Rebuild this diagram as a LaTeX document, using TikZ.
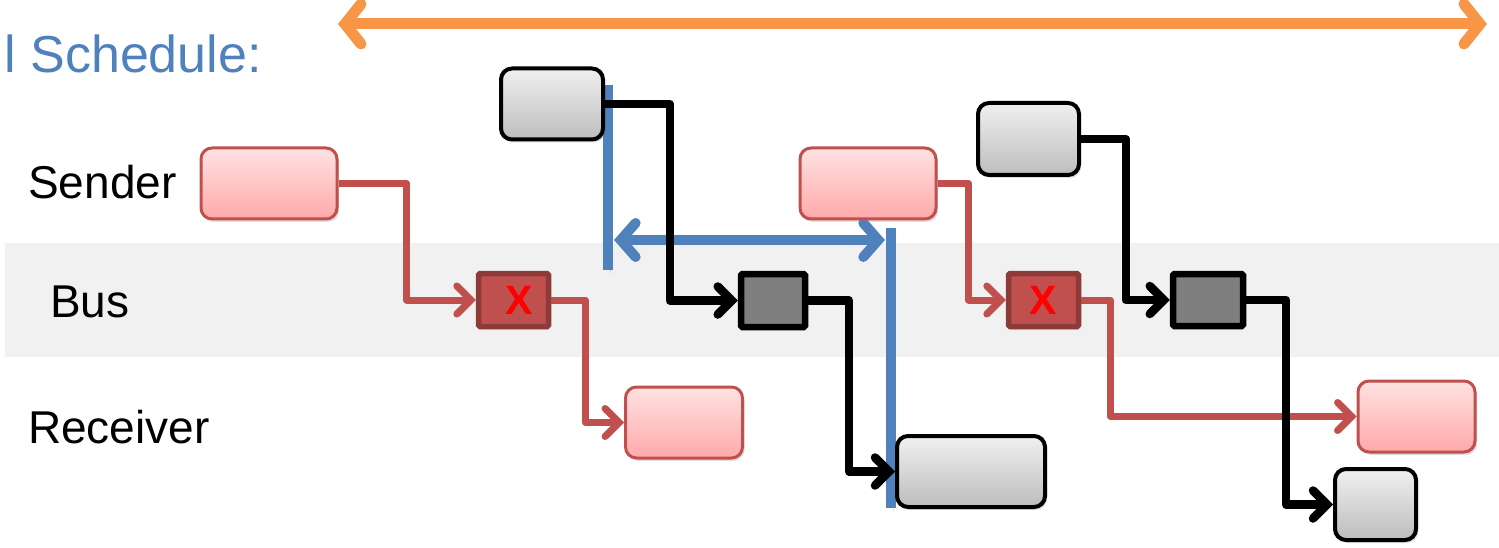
\documentclass[tikz,border=0pt]{standalone}
\usepackage{fontspec}
\setmainfont{Liberation Sans}
\usetikzlibrary{arrows.meta,shadows}
\definecolor{schedblue}{HTML}{4F81BD}
\definecolor{spanorange}{HTML}{F79646}
\definecolor{msgred}{HTML}{C0504D}
\definecolor{msgreddark}{HTML}{8C3B39}
\definecolor{bandgray}{HTML}{F1F1F1}
\definecolor{pinktop}{HTML}{FFE2E2}
\definecolor{pinkbottom}{HTML}{FFA9A9}
\definecolor{graytop}{HTML}{F0F0F0}
\definecolor{graybottom}{HTML}{BDBDBD}
\definecolor{busgray}{HTML}{7F7F7F}
\tikzset{
  lbl/.style={font=\fontsize{46}{52}\selectfont, anchor=base west, inner sep=0},
  boxshadow/.style={drop shadow={opacity=0.25, shadow xshift=2pt, shadow yshift=-3pt}},
  lineshadow/.style={preaction={draw=black!60, draw opacity=0.2,
    transform canvas={shift={(2pt,-3pt)}}}},
  pinkbox/.style={draw=msgred, line width=3pt, rounded corners=11pt,
    top color=pinktop, bottom color=pinkbottom, inner sep=0, boxshadow},
  graybox/.style={draw=black, line width=4pt, rounded corners=11pt,
    top color=graytop, bottom color=graybottom, inner sep=0, boxshadow},
  failbox/.style={draw=msgreddark, line width=5.5pt, rounded corners=1.5pt, fill=msgred,
    inner sep=0, boxshadow},
  xmark/.style={text=red, font=\fontsize{41}{43}\selectfont\bfseries, inner sep=0},
  busbox/.style={draw=black, line width=6.5pt, rounded corners=1.5pt, fill=busgray,
    inner sep=0, boxshadow},
  redline/.style={draw=msgred, line width=7pt, line join=round, lineshadow,
    -{Straight Barb[length=14pt,width=28pt,line cap=round]}},
  blackline/.style={draw=black, line width=8.5pt, line join=round, lineshadow,
    -{Straight Barb[length=14pt,width=28pt,line cap=round]}},
  blueline/.style={draw=schedblue, line width=10pt, lineshadow},
}
\begin{document}
\begin{tikzpicture}[x=1pt,y=-1pt]
\useasboundingbox (0,0) rectangle (1499,548);
% bus band
\fill[bandgray] (5,243) rectangle (1499,357);

% title and span
\node[font=\fontsize{52}{58}\selectfont, text=schedblue, anchor=base east, inner sep=0] (title) at (262,73) {l Schedule:};
\coordinate (spanL) at (338,24);
\coordinate (spanR) at (1487,24);
\draw[spanorange, line width=11pt, lineshadow, {Straight Barb[length=16pt,width=40pt,line cap=round]}-{Straight Barb[length=16pt,width=40pt,line cap=round]}] (spanL) -- (spanR);

% row labels
\node[lbl] (lsender) at (28,199) {Sender};
\node[lbl] (lbus) at (50,317) {Bus};
\node[lbl] (lrecv) at (28,443) {Receiver};

% blue markers
\coordinate (m1top) at (608,85);
\coordinate (m1bot) at (608,270);
\coordinate (m2top) at (891,228);
\coordinate (m2bot) at (891,508);
\draw[blueline] (m1top) -- (m1bot);
\draw[blueline] (m2top) -- (m2bot);
\coordinate (gapL) at (614,240);
\coordinate (gapR) at (885,240);
\draw[blueline, {Straight Barb[length=15pt,width=34pt,line cap=round]}-{Straight Barb[length=15pt,width=34pt,line cap=round]}] (gapL) -- (gapR);

% sender row
\node[pinkbox, minimum width=136pt, minimum height=71pt] (s1) at (269,183.5) {};
\node[graybox, minimum width=102pt, minimum height=71pt] (g1) at (552,104) {};
\node[pinkbox, minimum width=136pt, minimum height=71pt] (s2) at (868,183.5) {};
\node[graybox, minimum width=101pt, minimum height=72pt] (g2) at (1028.5,139) {};

% bus row
\node[failbox, minimum width=70pt, minimum height=53pt] (b1) at (513.5,300) {};
\node[xmark] (x1) at (519,300) {X};
\node[busbox, minimum width=64pt, minimum height=53pt] (b2) at (773,300.5) {};
\node[failbox, minimum width=70pt, minimum height=53pt] (b3) at (1043.5,300) {};
\node[xmark] (x3) at (1043.5,300) {X};
\node[busbox, minimum width=70pt, minimum height=52pt] (b4) at (1208,300) {};

% receiver row
\node[pinkbox, minimum width=117pt, minimum height=71pt] (r1) at (684,422.5) {};
\node[graybox, minimum width=148pt, minimum height=71pt] (r2) at (971,471.5) {};
\node[pinkbox, minimum width=117pt, minimum height=71pt] (r3) at (1416.5,416.5) {};
\node[graybox, minimum width=81pt, minimum height=71pt] (r4) at (1375.5,504.5) {};

% failed transmissions
\draw[redline] (s1.east) -| ([xshift=-69pt]b1.west) -- (b1.west);
\draw[redline] (b1.east) -| ([xshift=-39pt]r1.west) -- (r1.west);
\draw[redline] (s2.east) -| ([xshift=-37pt]b3.west) -- (b3.west);
\draw[redline] (b3.east) -| ([xshift=29pt]b3.east |- r3.west) -- (r3.west);

% successful transmissions
\draw[blackline] (g1.east) -| ([xshift=-68pt]b2.west) -- (b2.west);
\draw[blackline] (b2.east) -| ([xshift=-46pt]r2.west) -- (r2.west);
\draw[blackline] (g2.east) -| ([xshift=-44pt]b4.west) -- (b4.west);
\draw[blackline] (b4.east) -| ([xshift=-47pt]r4.west) -- (r4.west);
\end{tikzpicture}
\end{document}
